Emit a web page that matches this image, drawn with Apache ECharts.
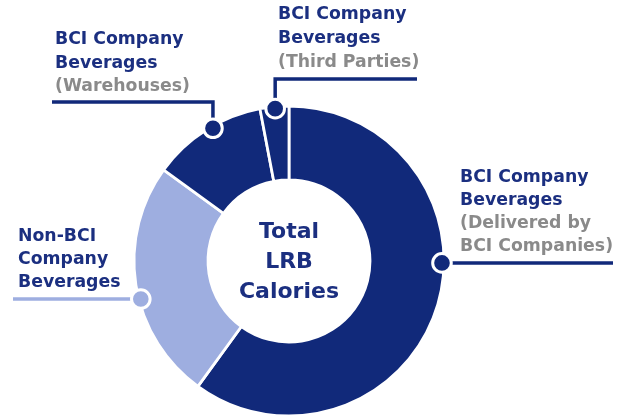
<!DOCTYPE html>
<html>
<head>
<meta charset="utf-8">
<script src="https://cdn.jsdelivr.net/npm/echarts@6/dist/echarts.min.js"></script>
<style>html,body{margin:0;padding:0;background:#fff}#c{width:618px;height:417px}</style>
</head>
<body>
<div id="c"></div>
<script>
// ---- data ----
var categories = ['Delivered by BCI Companies', 'Non-BCI Company Beverages', 'Warehouses', 'Third Parties'];
var values = [60, 25, 12, 3];
var titles = ['BCI Company\nBeverages', 'Non-BCI\nCompany\nBeverages', 'BCI Company\nBeverages', 'BCI Company\nBeverages'];
var subtitles = ['(Delivered by\nBCI Companies)', '', '(Warehouses)', '(Third Parties)'];
var centerLabel = ['Total', 'LRB', 'Calories'];

// ---- style ----
var NAVY = '#11297a', LIGHT = '#9eaee0', TEXTNAVY = '#1b2f80', GRAY = '#8a8a8a';
var colors = [NAVY, LIGHT, NAVY, NAVY];
var CX = 289, CY = 261, R0 = 81, R = 155;
var FONT = 'DejaVu Sans';

var chart = echarts.init(document.getElementById('c'));

// anchor positions along each slice (fraction of slice), on outer edge
var anchorFrac = [0.42, 0.44, 0.56, 0.52];
var total = values.reduce(function (a, b) { return a + b; }, 0);
var cum = 0, anchors = [];
values.forEach(function (v, i) {
  var a0 = cum / total * 360, a1 = (cum + v) / total * 360;
  var th = (a0 + (a1 - a0) * anchorFrac[i]) * Math.PI / 180;
  anchors.push([CX + 153 * Math.sin(th), CY - 153 * Math.cos(th)]);
  cum += v;
});

// label layouts (text box top-left, line height, leader line shape)
var labelPos = [
  { x: 460, y: 166, lh: 23 },
  { x: 18, y: 225, lh: 23 },
  { x: 55, y: 28, lh: 23.5 },
  { x: 278, y: 3, lh: 24 }
];
function leader(i) {
  var a = anchors[i];
  if (i === 0) return [[a[0], a[1]], [613, a[1]]];
  if (i === 1) return [[13, a[1]], [a[0], a[1]]];
  if (i === 2) return [[52, 102], [a[0], 102], [a[0], a[1]]];
  return [[417, 79], [a[0], 79], [a[0], a[1]]];
}

var graphics = [];
categories.forEach(function (c, i) {
  var lp = labelPos[i];
  var txt = titles[i].split('\n').map(function (s) { return '{t|' + s + '}'; }).join('\n');
  if (subtitles[i]) txt += '\n' + subtitles[i].split('\n').map(function (s) { return '{s|' + s + '}'; }).join('\n');
  graphics.push({
    type: 'text', x: lp.x, y: lp.y, z: 10,
    style: {
      text: txt,
      rich: {
        t: { fontFamily: FONT, fontWeight: 'bold', fontSize: 17.3, fill: TEXTNAVY, lineHeight: lp.lh },
        s: { fontFamily: FONT, fontWeight: 'bold', fontSize: 17.3, fill: GRAY, lineHeight: lp.lh }
      }
    }
  });
  graphics.push({
    type: 'polyline', z: 10,
    shape: { points: leader(i) },
    style: { stroke: i === 1 ? LIGHT : NAVY, lineWidth: 3.5, fill: null }
  });
  graphics.push({
    type: 'circle', z: 11,
    shape: { cx: anchors[i][0], cy: anchors[i][1], r: 9.3 },
    style: { fill: colors[i], stroke: '#fff', lineWidth: 3 }
  });
});
graphics.push({
  type: 'text', x: CX, y: 217, z: 10,
  style: {
    text: centerLabel.join('\n'), textAlign: 'center',
    fontFamily: FONT, fontWeight: 'bold', fontSize: 22, fill: TEXTNAVY, lineHeight: 30
  }
});

chart.setOption({
  animation: false,
  series: [{
    type: 'pie',
    center: [CX, CY],
    radius: [R0, R],
    startAngle: 90,
    clockwise: true,
    label: { show: false },
    labelLine: { show: false },
    itemStyle: { borderColor: '#fff', borderWidth: 2.8 },
    emphasis: { disabled: true },
    data: categories.map(function (c, i) {
      return { name: c, value: values[i], itemStyle: { color: colors[i] } };
    })
  }],
  graphic: graphics
});
</script>
</body>
</html>
